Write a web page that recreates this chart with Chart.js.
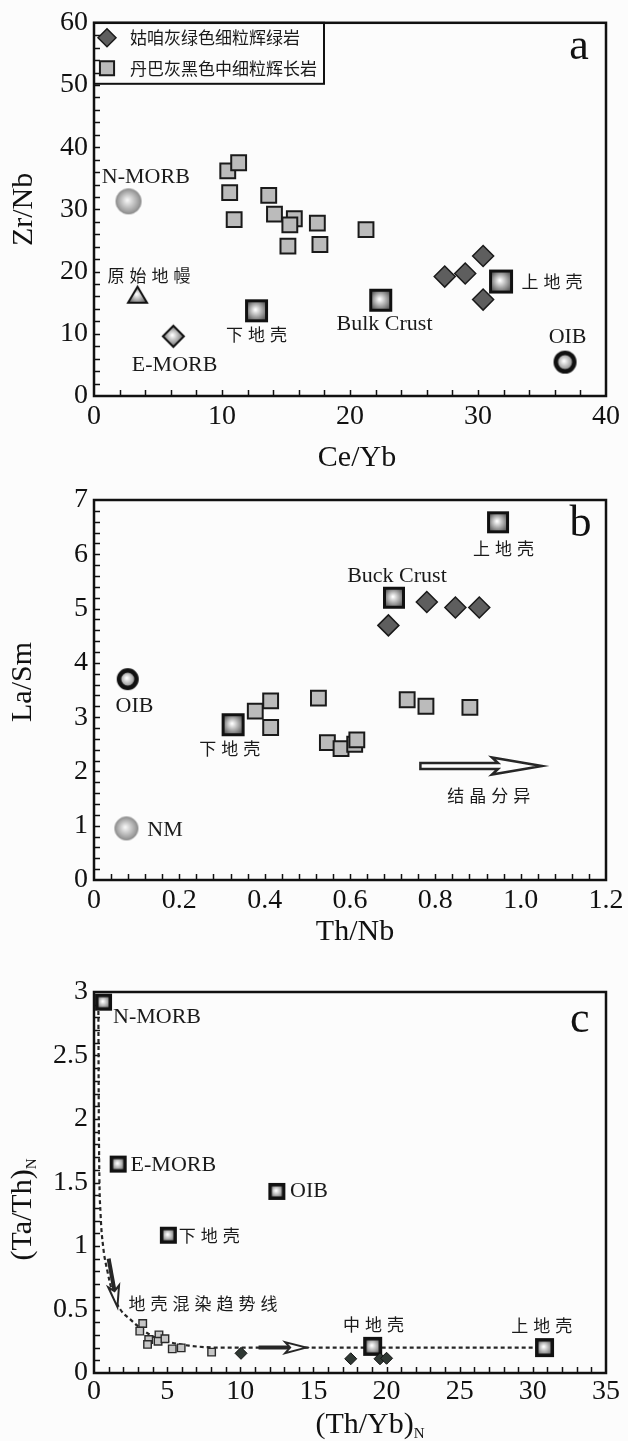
<!DOCTYPE html>
<html>
<head>
<meta charset="utf-8">
<script src="https://cdn.jsdelivr.net/npm/chart.js@4.4.1/dist/chart.umd.min.js"></script>
<style>
  html, body { margin: 0; padding: 0; background: #fcfcfc; }
  #wrap { position: relative; width: 628px; height: 1441px; overflow: hidden; }
  canvas { position: absolute; left: 0; }
</style>
</head>
<body>
<div id="wrap">
  <canvas id="chartA" width="628" height="470" style="top:0px"></canvas>
  <canvas id="chartB" width="628" height="470" style="top:470px"></canvas>
  <canvas id="chartC" width="628" height="501" style="top:940px"></canvas>
</div>
<script>
// ---- panel a : Ce/Yb vs Zr/Nb ----
var aGuzanCeYb = [27.4, 29.0, 30.4, 30.4];
var aGuzanZrNb = [19.2, 19.7, 22.5, 15.5];
var aDanbaCeYb = [10.45, 11.3, 10.6, 10.95, 13.65, 14.1, 15.65, 15.3, 15.15, 17.45, 17.65, 21.25];
var aDanbaZrNb = [36.2, 37.5, 32.7, 28.35, 32.25, 29.25, 28.5, 27.5, 24.1, 27.8, 24.35, 26.75];
var aRefNames = ["N-MORB", "原始地幔", "E-MORB", "下地壳", "Bulk Crust", "上地壳", "OIB"];
var aRefCeYb = [2.7, 3.4, 6.2, 12.7, 22.4, 31.8, 36.8];
var aRefZrNb = [31.3, 16.2, 9.6, 13.7, 15.4, 18.4, 5.45];
var aXTicks = [0, 10, 20, 30, 40];
var aYTicks = [0, 10, 20, 30, 40, 50, 60];

// ---- panel b : Th/Nb vs La/Sm ----
var bGuzanThNb = [0.69, 0.78, 0.847, 0.903];
var bGuzanLaSm = [4.69, 5.12, 5.02, 5.02];
var bDanbaThNb = [0.378, 0.414, 0.414, 0.526, 0.547, 0.579, 0.611, 0.616, 0.734, 0.778, 0.881];
var bDanbaLaSm = [3.11, 3.3, 2.81, 3.35, 2.53, 2.42, 2.5, 2.58, 3.32, 3.2, 3.18];
var bRefNames = ["上地壳", "Buck Crust", "下地壳", "OIB", "NM"];
var bRefThNb = [0.947, 0.703, 0.326, 0.079, 0.076];
var bRefLaSm = [6.59, 5.2, 2.86, 3.7, 0.95];
var bXTicks = [0, 0.2, 0.4, 0.6, 0.8, 1.0, 1.2];
var bYTicks = [0, 1, 2, 3, 4, 5, 6, 7];

// ---- panel c : (Th/Yb)N vs (Ta/Th)N ----
var cDanbaThYb = [3.33, 3.13, 3.74, 3.66, 4.44, 4.38, 4.85, 5.35, 5.96, 8.04];
var cDanbaTaTh = [0.39, 0.33, 0.264, 0.225, 0.30, 0.25, 0.27, 0.19, 0.198, 0.164];
var cGuzanThYb = [10.05, 17.55, 19.55, 20.0];
var cGuzanTaTh = [0.155, 0.112, 0.112, 0.116];
var cRefNames = ["N-MORB", "E-MORB", "OIB", "下地壳", "中地壳", "上地壳"];
var cRefThYb = [0.65, 1.65, 12.5, 5.08, 19.05, 30.8];
var cRefTaTh = [2.92, 1.645, 1.43, 1.085, 0.21, 0.2];
var cTrendThYb = [0.3, 0.32, 0.36, 0.45, 0.62, 0.92, 1.3, 1.8, 2.5, 3.2, 4.0, 5.1, 6.5, 8.7, 30.8];
var cTrendTaTh = [2.85, 2.2, 1.6, 1.25, 1.0, 0.8, 0.62, 0.5, 0.42, 0.35, 0.29, 0.245, 0.215, 0.2, 0.2];
var cXTicks = [0, 5, 10, 15, 20, 25, 30, 35];
var cYTicks = [0, 0.5, 1, 1.5, 2, 2.5, 3];

var legendNames = ["姑咱灰绿色细粒辉绿岩", "丹巴灰黑色中细粒辉长岩"];

var SERIF = '"Liberation Serif", "Times New Roman", serif';
var CJK = '"Noto Sans CJK SC", sans-serif';
var BG = "#fcfcfc";

function pts(xs, ys) {
  return xs.map(function(x, i) { return { x: x, y: ys[i] }; });
}

// little images for the shaded reference markers
function marker(kind, size, lw) {
  var pad = 4, s = Math.ceil(size + pad * 2);
  var c = document.createElement("canvas");
  c.width = s; c.height = s;
  var g = c.getContext("2d"), m = s / 2, r = size / 2, h = r - lw / 2;
  var grad = g.createRadialGradient(m - r * 0.1, m - r * 0.1, 0.5, m, m, r);
  if (kind === "sphere") {
    grad.addColorStop(0, "#f6f6f6");
    grad.addColorStop(1, "#8a8a8a");
  } else {
    grad.addColorStop(0, "#ffffff");
    grad.addColorStop(0.8, "#7a7a7a");
    grad.addColorStop(1, "#5a5a5a");
  }
  g.fillStyle = grad;
  g.strokeStyle = kind === "sphere" ? "#888" : "#111";
  g.lineWidth = lw;
  g.beginPath();
  if (kind === "square") {
    g.rect(m - h, m - h, 2 * h, 2 * h);
  } else if (kind === "diamond") {
    g.moveTo(m, m - h); g.lineTo(m + h, m); g.lineTo(m, m + h); g.lineTo(m - h, m); g.closePath();
  } else if (kind === "triangle") {
    g.moveTo(m, m - h * 0.9); g.lineTo(m + h, m + h * 0.8); g.lineTo(m - h, m + h * 0.8); g.closePath();
  } else {
    g.arc(m, m, h, 0, Math.PI * 2);
  }
  g.fill();
  g.stroke();
  return c;
}

function val(scale, v) { return scale.getPixelForValue(v); }

function drawArrow(ctx, p0, p1, kind) {
  var dx = p1.x - p0.x, dy = p1.y - p0.y, L = Math.sqrt(dx * dx + dy * dy);
  ctx.save();
  ctx.translate(p0.x, p0.y);
  ctx.rotate(Math.atan2(dy, dx));
  ctx.strokeStyle = "#262626";
  ctx.fillStyle = BG;
  ctx.lineJoin = "miter";
  if (kind === "hollow") {
    ctx.lineWidth = 2.5;
    ctx.beginPath();
    ctx.moveTo(0, -3); ctx.lineTo(L - 44, -3); ctx.lineTo(L - 50, -8.5);
    ctx.lineTo(L, 0);
    ctx.lineTo(L - 50, 8.5); ctx.lineTo(L - 44, 3); ctx.lineTo(0, 3);
    ctx.closePath();
    ctx.fill(); ctx.stroke();
  } else {
    ctx.lineWidth = 4;
    ctx.beginPath(); ctx.moveTo(0, 0); ctx.lineTo(L - 16, 0); ctx.stroke();
    ctx.lineWidth = 2;
    ctx.beginPath();
    ctx.moveTo(L - 21, -5.5); ctx.lineTo(L, 0); ctx.lineTo(L - 21, 5.5); ctx.lineTo(L - 16, 0);
    ctx.closePath();
    ctx.fill(); ctx.stroke();
  }
  ctx.restore();
}

function drawTitle(ctx, t, cx, cy, rotate) {
  var big = "30px " + SERIF, small = "15px " + SERIF;
  ctx.save();
  ctx.translate(cx, cy);
  if (rotate) ctx.rotate(-Math.PI / 2);
  ctx.fillStyle = "#111";
  ctx.textBaseline = "middle";
  ctx.textAlign = "left";
  ctx.font = big;
  var w1 = ctx.measureText(t.text).width, w2 = 0;
  if (t.sub) { ctx.font = small; w2 = ctx.measureText(t.sub).width; }
  var x0 = -(w1 + w2) / 2;
  ctx.font = big;
  ctx.fillText(t.text, x0, 0);
  if (t.sub) { ctx.font = small; ctx.fillText(t.sub, x0 + w1, 9); }
  ctx.restore();
}

var decorPlugin = {
  id: "decor",
  beforeDatasetsDraw: function(chart, args, o) {
    var ctx = chart.ctx, a = chart.chartArea, xs = chart.scales.x, ys = chart.scales.y;
    var i, n, px, v;
    ctx.save();
    ctx.strokeStyle = "#111";
    ctx.lineWidth = 1.5;
    ctx.beginPath();
    n = Math.round((xs.max - xs.min) / o.xMinor);
    for (i = 1; i < n; i++) {
      v = xs.min + i * o.xMinor;
      px = Math.round(val(xs, v)) + 0.5;
      ctx.moveTo(px, a.bottom); ctx.lineTo(px, a.bottom - 6);
    }
    n = Math.round((ys.max - ys.min) / o.yMinor);
    for (i = 1; i < n; i++) {
      v = ys.min + i * o.yMinor;
      px = Math.round(val(ys, v)) + 0.5;
      ctx.moveTo(a.left, px); ctx.lineTo(a.left + 6, px);
    }
    ctx.stroke();
    ctx.lineWidth = 2.5;
    ctx.strokeRect(a.left, a.top, a.right - a.left, a.bottom - a.top);
    ctx.restore();
  },
  afterDatasetsDraw: function(chart, args, o) {
    var ctx = chart.ctx, a = chart.chartArea, xs = chart.scales.x, ys = chart.scales.y;
    ctx.save();
    (o.arrows || []).forEach(function(ar) {
      drawArrow(ctx,
        { x: val(xs, ar.from[0]), y: val(ys, ar.from[1]) },
        { x: val(xs, ar.to[0]), y: val(ys, ar.to[1]) }, ar.kind);
    });
    ctx.fillStyle = "#1a1a1a";
    ctx.textBaseline = "middle";
    (o.labels || []).forEach(function(l) {
      var cjk = /[\u4e00-\u9fff]/.test(l.text);
      ctx.font = cjk ? "17px " + CJK : "22px " + SERIF;
      ctx.letterSpacing = cjk ? "5px" : "0px";
      ctx.textAlign = l.align || "center";
      var x = val(xs, l.x);
      if (cjk && ctx.textAlign === "center") x += 2.5;
      ctx.fillText(l.text, x, val(ys, l.y));
    });
    ctx.letterSpacing = "0px";
    if (o.letter) {
      ctx.font = "44px " + SERIF;
      ctx.textAlign = "center";
      ctx.fillStyle = "#111";
      ctx.fillText(o.letter.text, val(xs, o.letter.x), val(ys, o.letter.y));
    }
    if (o.legend) {
      var lg = o.legend;
      ctx.lineWidth = 2;
      ctx.strokeStyle = "#111";
      ctx.strokeRect(a.left, a.top, lg.width, lg.height);
      lg.items.forEach(function(it, k) {
        var ds = chart.data.datasets[it.dataset];
        var y = a.top + 15 + k * 30.5;
        ctx.fillStyle = ds.backgroundColor;
        ctx.strokeStyle = ds.borderColor;
        ctx.lineWidth = ds.borderWidth;
        Chart.helpers.drawPoint(ctx, { pointStyle: ds.pointStyle, radius: it.radius, borderWidth: ds.borderWidth }, a.left + 13, y);
        ctx.fillStyle = "#1a1a1a";
        ctx.font = "17px " + CJK;
        ctx.textAlign = "left";
        ctx.fillText(it.text, a.left + 36, y);
      });
    }
    var cx = (a.left + a.right) / 2, cy = (a.top + a.bottom) / 2;
    drawTitle(ctx, o.xTitle, cx + o.xTitle.dx, a.bottom + o.xTitle.dy, false);
    drawTitle(ctx, o.yTitle, o.yTitle.x, cy + o.yTitle.dy, true);
    ctx.restore();
  }
};

function buildChart(id, cfg) {
  var tickFont = { family: SERIF, size: 28 };
  return new Chart(document.getElementById(id), {
    type: "scatter",
    data: { datasets: cfg.datasets },
    options: {
      responsive: false,
      animation: false,
      layout: { padding: { left: 0, right: 22, top: cfg.top, bottom: 0 } },
      plugins: {
        legend: { display: false },
        tooltip: { enabled: false },
        decor: cfg.decor
      },
      scales: {
        x: {
          type: "linear",
          min: cfg.xTicks[0],
          max: cfg.xTicks[cfg.xTicks.length - 1],
          afterBuildTicks: function(s) { s.ticks = cfg.xTicks.map(function(v) { return { value: v }; }); },
          afterFit: function(s) { s.height = cfg.xHeight; },
          grid: { display: false, drawTicks: false },
          border: { display: false },
          ticks: { font: tickFont, color: "#111", padding: cfg.xPad, maxRotation: 0, autoSkip: false, callback: cfg.xFmt }
        },
        y: {
          type: "linear",
          min: cfg.yTicks[0],
          max: cfg.yTicks[cfg.yTicks.length - 1],
          afterBuildTicks: function(s) { s.ticks = cfg.yTicks.map(function(v) { return { value: v }; }); },
          afterFit: function(s) { s.width = 94; },
          grid: { display: false, drawTicks: false },
          border: { display: false },
          ticks: { font: tickFont, color: "#111", padding: 6, autoSkip: false, callback: function(v) { return String(v); } }
        }
      }
    },
    plugins: [decorPlugin]
  });
}

function plain(v) { return String(v); }

document.addEventListener("DOMContentLoaded", function() {
  // panel a
  buildChart("chartA", {
    top: 16, xHeight: 74, xPad: 4,
    xTicks: aXTicks, yTicks: aYTicks, xFmt: plain,
    datasets: [
      { label: legendNames[0], data: pts(aGuzanCeYb, aGuzanZrNb), pointStyle: "rectRot", pointRadius: 10.5,
        backgroundColor: "#5e5e5e", borderColor: "#1a1a1a", borderWidth: 1.5, clip: false },
      { label: legendNames[1], data: pts(aDanbaCeYb, aDanbaZrNb), pointStyle: "rect", pointRadius: 10.5,
        backgroundColor: "#bbbbbb", borderColor: "#1a1a1a", borderWidth: 2, clip: false },
      { label: "ref", data: pts(aRefCeYb, aRefZrNb), pointRadius: 12, clip: false,
        pointStyle: [marker("sphere", 26, 0.8), marker("triangle", 21, 2), marker("diamond", 23, 2),
                     marker("square", 23, 3), marker("square", 23, 3), marker("square", 24, 3), marker("ring", 23, 4.5)] }
    ],
    decor: {
      xMinor: 2, yMinor: 2,
      xTitle: { text: "Ce/Yb", dx: 7, dy: 62 },
      yTitle: { text: "Zr/Nb", x: 24, dy: 0 },
      letter: { text: "a", x: 37.9, y: 56 },
      legend: { width: 230, height: 61, items: [
        { dataset: 0, text: legendNames[0], radius: 9 },
        { dataset: 1, text: legendNames[1], radius: 10 }
      ] },
      labels: [
        { text: aRefNames[0], x: 4.05, y: 35.2 },
        { text: aRefNames[1], x: 4.3, y: 19.4 },
        { text: aRefNames[2], x: 6.3, y: 4.9 },
        { text: aRefNames[3], x: 12.7, y: 9.9 },
        { text: aRefNames[4], x: 22.7, y: 11.5 },
        { text: aRefNames[5], x: 33.4, y: 18.4, align: "left" },
        { text: aRefNames[6], x: 37.0, y: 9.5 }
      ]
    }
  });

  // panel b
  buildChart("chartB", {
    top: 30, xHeight: 60, xPad: 4,
    xTicks: bXTicks, yTicks: bYTicks,
    xFmt: function(v) { return v === 0 ? "0" : v.toFixed(1); },
    datasets: [
      { label: legendNames[0], data: pts(bGuzanThNb, bGuzanLaSm), pointStyle: "rectRot", pointRadius: 10.5,
        backgroundColor: "#5e5e5e", borderColor: "#1a1a1a", borderWidth: 1.5, clip: false },
      { label: legendNames[1], data: pts(bDanbaThNb, bDanbaLaSm), pointStyle: "rect", pointRadius: 10.5,
        backgroundColor: "#bbbbbb", borderColor: "#1a1a1a", borderWidth: 2, clip: false },
      { label: "ref", data: pts(bRefThNb, bRefLaSm), pointRadius: 12, clip: false,
        pointStyle: [marker("square", 22, 3), marker("square", 22, 3), marker("square", 23, 3),
                     marker("ring", 22, 4.5), marker("sphere", 24, 0.8)] }
    ],
    decor: {
      xMinor: 0.04, yMinor: 0.2,
      xTitle: { text: "Th/Nb", dx: 5, dy: 52 },
      yTitle: { text: "La/Sm", x: 23, dy: -8 },
      letter: { text: "b", x: 1.14, y: 6.55 },
      arrows: [{ kind: "hollow", from: [0.765, 2.1], to: [1.05, 2.1] }],
      labels: [
        { text: bRefNames[0], x: 0.96, y: 6.11 },
        { text: bRefNames[1], x: 0.71, y: 5.6 },
        { text: bRefNames[2], x: 0.318, y: 2.43 },
        { text: bRefNames[3], x: 0.095, y: 3.2 },
        { text: bRefNames[4], x: 0.125, y: 0.92, align: "left" },
        { text: "结晶分异", x: 0.925, y: 1.55 }
      ]
    }
  });

  // panel c
  buildChart("chartC", {
    top: 52, xHeight: 68, xPad: 2,
    xTicks: cXTicks, yTicks: cYTicks, xFmt: plain,
    datasets: [
      { label: "trend", type: "line", data: pts(cTrendThYb, cTrendTaTh), showLine: true, order: 5,
        borderColor: "#262626", borderWidth: 2.2, borderDash: [4, 3], pointRadius: 0,
        cubicInterpolationMode: "monotone", fill: false, clip: false },
      { label: legendNames[0], data: pts(cGuzanThYb, cGuzanTaTh), pointStyle: "rectRot", pointRadius: 6,
        backgroundColor: "#2f3833", borderColor: "#111", borderWidth: 1, clip: false },
      { label: legendNames[1], data: pts(cDanbaThYb, cDanbaTaTh), pointStyle: "rect", pointRadius: 5.3,
        backgroundColor: "#c6c6c6", borderColor: "#2a2a2a", borderWidth: 1.4, clip: false },
      { label: "ref", data: pts(cRefThYb, cRefTaTh), pointRadius: 10, clip: false,
        pointStyle: [marker("square", 17, 3.5), marker("square", 17, 3.5), marker("square", 17, 3.5),
                     marker("square", 17, 3.5), marker("square", 19, 3.5), marker("square", 19, 3.5)] }
    ],
    decor: {
      xMinor: 1, yMinor: 0.1,
      xTitle: { text: "(Th/Yb)", sub: "N", dx: 20, dy: 52 },
      yTitle: { text: "(Ta/Th)", sub: "N", x: 23, dy: 27 },
      letter: { text: "c", x: 33.2, y: 2.78 },
      arrows: [
        { kind: "open", from: [11.25, 0.2], to: [14.5, 0.2] },
        { kind: "open", from: [1.0, 0.9], to: [1.6, 0.52] }
      ],
      labels: [
        { text: cRefNames[0], x: 1.3, y: 2.8, align: "left" },
        { text: cRefNames[1], x: 2.5, y: 1.64, align: "left" },
        { text: cRefNames[2], x: 13.4, y: 1.43, align: "left" },
        { text: cRefNames[3], x: 5.8, y: 1.08, align: "left" },
        { text: "地壳混染趋势线", x: 2.35, y: 0.55, align: "left" },
        { text: cRefNames[4], x: 19.1, y: 0.38 },
        { text: cRefNames[5], x: 30.6, y: 0.37 }
      ]
    }
  });
});
</script>
</body>
</html>
